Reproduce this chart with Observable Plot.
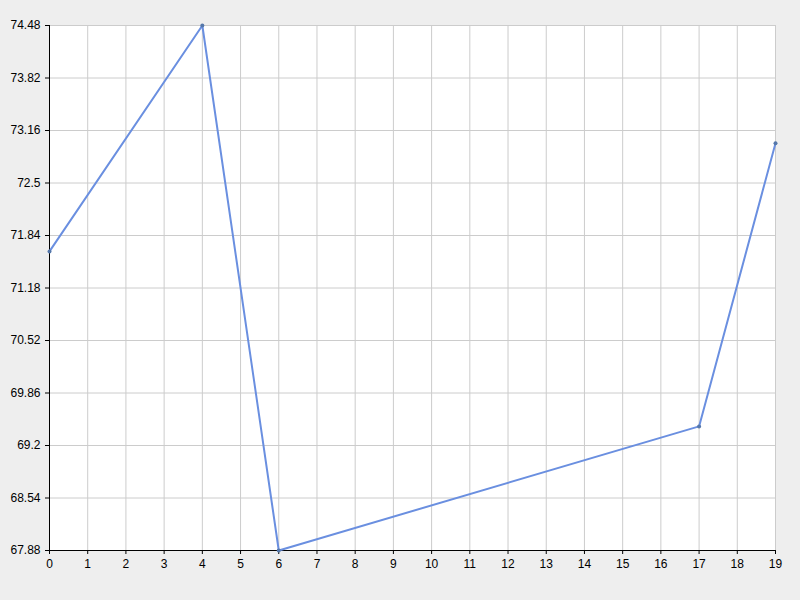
<!DOCTYPE html>
<html>
<head>
<meta charset="utf-8">
<script src="https://cdn.jsdelivr.net/npm/d3@7"></script>
<script src="https://cdn.jsdelivr.net/npm/@observablehq/plot@0.6"></script>
<style>
  body { margin: 0; background: #eeeeee; }
  svg { display: block; }
</style>
</head>
<body>
<div id="chart"></div>
<script>
  var xValues = [0, 4, 6, 17, 19];
  var yValues = [71.64, 74.48, 67.88, 69.44, 73.0];
  var xTicks = d3.range(0, 20);
  var yTicks = [67.88, 68.54, 69.2, 69.86, 70.52, 71.18, 71.84, 72.5, 73.16, 73.82, 74.48];

  var rows = xValues.map(function(x, i) {
    return { x: x, y: yValues[i] };
  });

  var plot = Plot.plot({
    width: 800,
    height: 600,
    marginLeft: 49,
    marginRight: 25,
    marginTop: 25,
    marginBottom: 50,
    style: { background: "#eeeeee", fontFamily: "Liberation Sans, sans-serif", fontSize: "12px", color: "#000" },
    x: { domain: [0, 19], ticks: xTicks, tickFormat: function(d) { return String(d); }, label: null, tickSize: 4 },
    y: { domain: [67.88, 74.48], ticks: yTicks, tickFormat: function(d) { return String(d); }, label: null, tickSize: 4 },
    marks: [
      Plot.frame({ fill: "white", stroke: null }),
      Plot.gridX(xTicks, { stroke: "#cccccc", strokeOpacity: 1 }),
      Plot.gridY(yTicks, { stroke: "#cccccc", strokeOpacity: 1 }),
      Plot.axisX({ ticks: xTicks, tickFormat: function(d) { return String(d); }, tickSize: 4, fontSize: 12 }),
      Plot.axisY({ ticks: yTicks, tickFormat: function(d) { return String(d); }, tickSize: 4, fontSize: 12 }),
      Plot.ruleY([67.88], { stroke: "#000" }),
      Plot.ruleX([0], { stroke: "#000" }),
      Plot.line(rows, { x: "x", y: "y", stroke: "#6a8fe0", strokeWidth: 2 }),
      Plot.dot(rows, { x: "x", y: "y", r: 2, fill: "#5577aa", stroke: null })
    ]
  });

  document.getElementById("chart").appendChild(plot);
</script>
</body>
</html>
